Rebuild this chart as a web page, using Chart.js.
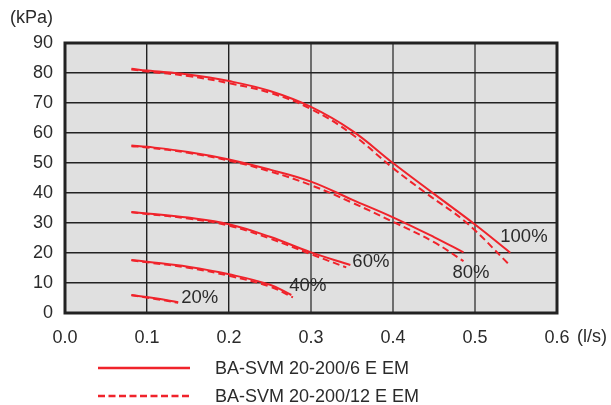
<!DOCTYPE html>
<html>
<head>
<meta charset="utf-8">
<script src="https://cdn.jsdelivr.net/npm/chart.js@4"></script>
<style>
  html, body { margin: 0; padding: 0; background: #fff; }
  #chart { display: block; }
</style>
</head>
<body>
<canvas id="chart" width="611" height="405"></canvas>
<script>
// flow (l/s) and head (kPa), per speed setting
const speedLabels = ["100%", "80%", "60%", "40%", "20%"];

const flow100 = [0.081, 0.1, 0.15, 0.2, 0.25, 0.3, 0.35, 0.4, 0.45, 0.5, 0.543];
const head100 = [81.4, 80.8, 79.5, 77.3, 74.0, 68.7, 60.8, 50.0, 39.7, 29.5, 20.1];
const flow100b = [0.081, 0.1, 0.15, 0.2, 0.25, 0.3, 0.35, 0.4, 0.44, 0.49, 0.54];
const head100b = [81.2, 80.5, 79.0, 76.6, 73.4, 68.0, 59.6, 48.3, 40.0, 30.0, 16.6];

const flow80 = [0.081, 0.1, 0.15, 0.2, 0.25, 0.3, 0.35, 0.4, 0.45, 0.486];
const head80 = [55.8, 55.4, 53.7, 51.2, 47.8, 43.8, 37.8, 31.9, 25.3, 20.2];
const head80b = [55.6, 55.2, 53.4, 50.8, 47.2, 42.6, 36.8, 30.4, 23.6, 17.3];

const flow60 = [0.081, 0.1, 0.15, 0.2, 0.25, 0.3, 0.348];
const head60 = [33.7, 33.2, 31.8, 29.6, 25.4, 20.2, 16.0];
const flow60b = [0.081, 0.1, 0.15, 0.2, 0.25, 0.3, 0.343];
const head60b = [33.6, 33.0, 31.5, 29.1, 24.8, 19.6, 15.2];

const flow40 = [0.081, 0.1, 0.15, 0.2, 0.25, 0.276];
const head40 = [17.7, 17.1, 15.4, 12.9, 9.4, 6.0];
const flow40b = [0.081, 0.1, 0.15, 0.2, 0.25, 0.278];
const head40b = [17.6, 16.9, 15.1, 12.4, 8.8, 5.2];

const flow20 = [0.081, 0.11, 0.138];
const head20 = [6.0, 4.9, 3.6];
const head20b = [5.9, 4.7, 3.4];

const xTicks = [0, 0.1, 0.2, 0.3, 0.4, 0.5, 0.6];
const yTicks = [0, 10, 20, 30, 40, 50, 60, 70, 80, 90];

const seriesNames = ["BA-SVM 20-200/6 E EM", "BA-SVM 20-200/12 E EM"];

const RED = "#f0232b";
const TEXT = "#2b2b2b";
const FONT = "'Liberation Sans', Arial, sans-serif";

const pts = (xs, ys) => xs.map((x, i) => ({ x: x, y: ys[i] }));

const solidCurves = [pts(flow100, head100), pts(flow80, head80), pts(flow60, head60), pts(flow40, head40), pts(flow20, head20)];
const dashedCurves = [pts(flow100b, head100b), pts(flow80, head80b), pts(flow60b, head60b), pts(flow40b, head40b), pts(flow20, head20b)];

const datasets = [];
solidCurves.forEach((d, i) => datasets.push({
  label: seriesNames[0] + " " + speedLabels[i], data: d,
  borderColor: RED, borderWidth: 2, pointRadius: 0, fill: false, tension: 0.4
}));
dashedCurves.forEach((d, i) => datasets.push({
  label: seriesNames[1] + " " + speedLabels[i], data: d,
  borderColor: RED, borderWidth: 2, borderDash: [7, 4], pointRadius: 0, fill: false, tension: 0.4
}));

// where each % label sits relative to the end of its solid curve (px)
const labelOffsets = [[-10, -16], [-11, 21], [2, -3], [-2, -9], [3, -4]];

const decor = {
  id: "decor",
  beforeDraw(chart) {
    const { ctx, chartArea: a } = chart;
    ctx.save();
    ctx.fillStyle = "#e0e0e0";
    ctx.fillRect(a.left, a.top, a.right - a.left, a.bottom - a.top);
    ctx.restore();
  },
  afterDraw(chart) {
    const { ctx, chartArea: a, scales } = chart;
    ctx.save();
    // frame
    ctx.strokeStyle = "#222";
    ctx.lineWidth = 3;
    ctx.strokeRect(a.left, a.top, a.right - a.left, a.bottom - a.top);

    // units
    ctx.fillStyle = TEXT;
    ctx.font = "18px " + FONT;
    ctx.textBaseline = "middle";
    ctx.textAlign = "right";
    ctx.fillText("(kPa)", a.left - 12, 18);
    ctx.textAlign = "left";
    ctx.fillText("(l/s)", a.right + 20, 337);

    // speed labels
    ctx.font = "18.5px " + FONT;
    solidCurves.forEach((d, i) => {
      const last = d[d.length - 1];
      const px = scales.x.getPixelForValue(last.x) + labelOffsets[i][0];
      const py = scales.y.getPixelForValue(last.y) + labelOffsets[i][1];
      ctx.fillText(speedLabels[i], px, py);
    });

    // legend
    const rows = [368, 396];
    rows.forEach((y, i) => {
      ctx.strokeStyle = RED;
      ctx.lineWidth = 2.5;
      ctx.setLineDash(i === 0 ? [] : [7, 3.5]);
      ctx.beginPath();
      ctx.moveTo(98, y);
      ctx.lineTo(190, y);
      ctx.stroke();
      ctx.setLineDash([]);
      ctx.fillStyle = TEXT;
      ctx.font = "18px " + FONT;
      ctx.fillText(seriesNames[i], 215, y + 1);
    });
    ctx.restore();
  }
};

new Chart(document.getElementById("chart").getContext("2d"), {
  type: "line",
  data: { datasets: datasets },
  options: {
    responsive: false,
    animation: false,
    devicePixelRatio: 1,
    layout: { padding: { top: 43, right: 54, left: 0, bottom: 0 } },
    plugins: { legend: { display: false }, tooltip: { enabled: false } },
    scales: {
      x: {
        type: "linear", min: 0, max: 0.6,
        afterBuildTicks: s => { s.ticks = xTicks.map(v => ({ value: v })); },
        afterFit: s => { s.height = 92; },
        ticks: { color: TEXT, font: { family: FONT, size: 18 }, padding: 14, maxRotation: 0,
          callback: v => v.toFixed(1) },
        grid: { drawTicks: false, lineWidth: c => (c.tick && c.tick.value >= 0.3 ? 2 : 1.4),
          color: c => (c.tick && c.tick.value >= 0.3 ? "#6e6e6e" : "#222") },
        border: { display: false }
      },
      y: {
        min: 0, max: 90,
        afterBuildTicks: s => { s.ticks = yTicks.map(v => ({ value: v })); },
        afterFit: s => { s.width = 65; },
        ticks: { color: TEXT, font: { family: FONT, size: 18 }, padding: 12 },
        grid: { drawTicks: false, lineWidth: 1.4, color: "#222" },
        border: { display: false }
      }
    }
  },
  plugins: [decor]
});
</script>
</body>
</html>
